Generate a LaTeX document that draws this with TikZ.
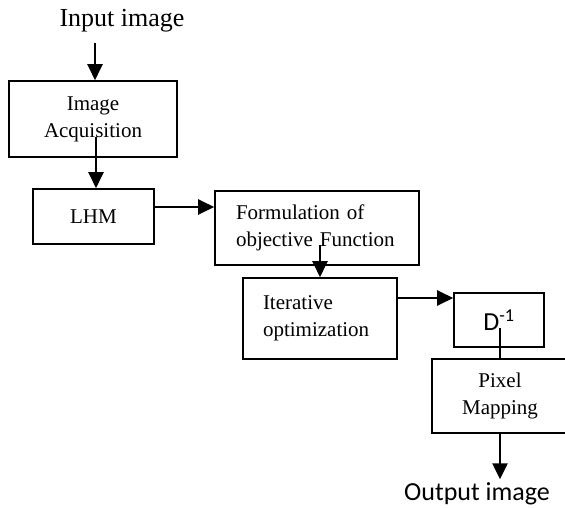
\documentclass[tikz,border=0pt]{standalone}
\usepackage{fontspec}
\setmainfont{Liberation Serif}
\newfontfamily\calibri{Carlito}
\usetikzlibrary{arrows.meta}

\begin{document}
\begin{tikzpicture}[x=1pt,y=-1pt,
  block/.style={draw,line width=1.6pt,inner ysep=0pt,inner xsep=0pt,font=\fontsize{21}{27}\selectfont},
  arr/.style={line width=2.4pt,-{Triangle[width=15pt,length=16pt]}}]
\useasboundingbox (0,0) rectangle (565,508);
\node (inimg) at (122,21) {\fontsize{26}{30}\selectfont Input image};
\node[block,align=center,minimum width=168pt,minimum height=76pt] (acq) at (93,119) {Image\\Acquisition};
\node[block,minimum width=121pt,minimum height=55pt] (lhm) at (93.5,216.5) {LHM};
\node[block,align=left,text width=162pt,inner xsep=21pt,minimum height=74pt] (form) at (317,228) {Formulation of\\objective Function};
\node[block,align=left,text width=114pt,inner xsep=20pt,minimum height=81pt] (iter) at (320,318.5) {Iterative\\optimization};
\node[block,font=\calibri\fontsize{26}{30}\selectfont,minimum width=90pt,minimum height=54pt] (dinv) at (499,320) {D\textsuperscript{-1}};
\node[block,align=center,minimum width=136pt,minimum height=74pt] (pix) at (500,396) {Pixel\\Mapping};
\node (outimg) at (477,494) {\calibri\fontsize{26}{30}\selectfont Output image};
\coordinate (a1) at (95,43);
\coordinate (a2) at (96,137);
\coordinate (a3) at (320,245);
\coordinate (a4) at (500,328);
\draw[arr] (a1) -- (acq.north -| a1);
\draw[arr] (a2) -- (lhm.north -| a2);
\draw[arr] (lhm.east |- 0,207) -- (form.west |- 0,207);
\draw[arr] (a3) -- (iter.north -| a3);
\draw[arr] (iter.east |- 0,298) -- (dinv.west |- 0,298);
\draw[line width=2.4pt] (a4) -- (pix.north -| a4);
\draw[arr] (pix.south -| a4) -- (outimg.north -| a4);
\end{tikzpicture}
\end{document}
